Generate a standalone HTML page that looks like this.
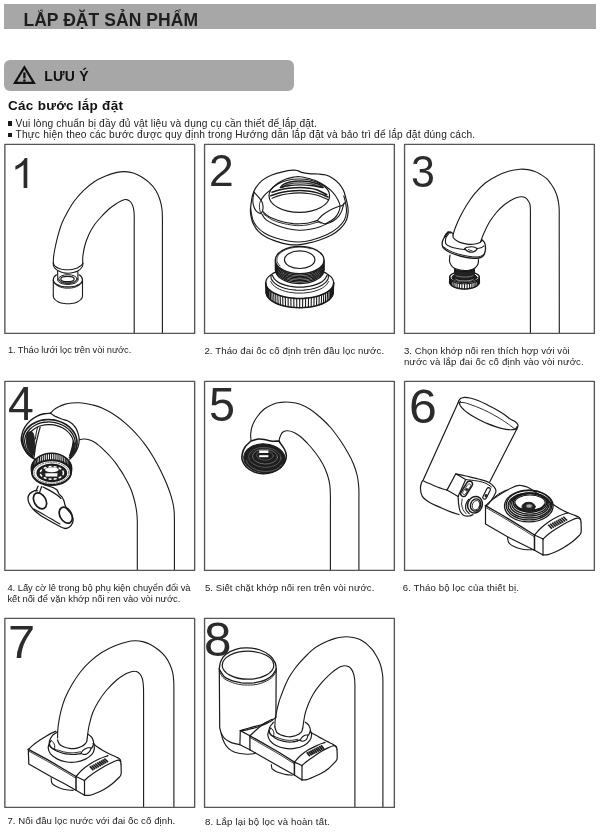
<!DOCTYPE html>
<html lang="vi"><head><meta charset="utf-8"><title>LẮP ĐẶT SẢN PHẨM</title>
<style>
html,body{margin:0;padding:0;background:#fff;}
html{width:600px;height:838px;overflow:hidden;}
body{width:600px;height:838px;position:relative;overflow:hidden;font-family:"Liberation Sans",sans-serif;filter:grayscale(1);}
.t{position:absolute;white-space:nowrap;line-height:20px;height:20px;}
.d{position:absolute;white-space:nowrap;line-height:80px;height:80px;color:#2b2b2b;}
.bar1{position:absolute;left:4px;top:4px;width:592px;height:25.2px;background:#a7a7a7;}
.bar2{position:absolute;left:3.8px;top:59.7px;width:290px;height:31.5px;background:#a7a7a7;border-radius:6px;}
.bul{position:absolute;width:4.6px;height:4.6px;background:#1a1a1a;left:7.9px;}
svg{position:absolute;left:0;top:0;}
</style></head>
<body>
<div class="bar1"></div>
<div class="bar2"></div>
<div class="bul" style="top:121.2px"></div>
<div class="bul" style="top:132.6px"></div>
<div class="t" id="t0" style="left:23.4px;top:10.24px;font-size:17.5px;font-weight:bold;color:#1e1e1e;letter-spacing:0.059px;">LẮP ĐẶT SẢN PHẨM</div>
<div class="t" id="t1" style="left:44.2px;top:65.65px;font-size:14px;font-weight:bold;color:#111;letter-spacing:0.221px;">LƯU Ý</div>
<div class="t" id="t2" style="left:8.1px;top:95.72px;font-size:13.5px;font-weight:bold;color:#111;letter-spacing:0.260px;">Các bước lắp đặt</div>
<div class="t" id="t3" style="left:15.6px;top:113.57px;font-size:10.2px;font-weight:normal;color:#222;letter-spacing:0.162px;">Vui lòng chuẩn bị đầy đủ vật liệu và dụng cụ cần thiết để lắp đặt.</div>
<div class="t" id="t4" style="left:15.6px;top:125.27px;font-size:10.2px;font-weight:normal;color:#222;letter-spacing:0.182px;">Thực hiện theo các bước được quy định trong Hướng dẫn lắp đặt và bảo trì để lắp đặt đúng cách.</div>
<div class="t" id="t5" style="left:7.9px;top:340.08px;font-size:9.3px;font-weight:normal;color:#222;letter-spacing:-0.062px;">1. Tháo lưới lọc trên vòi nước.</div>
<div class="t" id="t6" style="left:204.4px;top:340.97px;font-size:9.6px;font-weight:normal;color:#222;letter-spacing:0.112px;">2. Tháo đai ốc cố định trên đầu lọc nước.</div>
<div class="t" id="t7" style="left:403.9px;top:340.97px;font-size:9.6px;font-weight:normal;color:#222;letter-spacing:0.050px;">3. Chọn khớp nối ren thích hợp với vòi</div>
<div class="t" id="t8" style="left:403.9px;top:352.07px;font-size:9.6px;font-weight:normal;color:#222;letter-spacing:0.143px;">nước và lắp đai ốc cố định vào vòi nước.</div>
<div class="t" id="t9" style="left:7.4px;top:577.74px;font-size:9.4px;font-weight:normal;color:#222;letter-spacing:-0.028px;">4. Lấy cờ lê trong bộ phụ kiện chuyển đổi và</div>
<div class="t" id="t10" style="left:7.4px;top:588.74px;font-size:9.4px;font-weight:normal;color:#222;letter-spacing:-0.011px;">kết nối để vặn khớp nối ren vào vòi nước.</div>
<div class="t" id="t11" style="left:204.9px;top:578.07px;font-size:9.6px;font-weight:normal;color:#222;letter-spacing:0.071px;">5. Siết chặt khớp nối ren trên vòi nước.</div>
<div class="t" id="t12" style="left:402.7px;top:578.07px;font-size:9.6px;font-weight:normal;color:#222;letter-spacing:0.142px;">6. Tháo bộ lọc của thiết bị.</div>
<div class="t" id="t13" style="left:7.4px;top:811.37px;font-size:9.6px;font-weight:normal;color:#222;letter-spacing:0.087px;">7. Nối đầu lọc nước với đai ốc cố định.</div>
<div class="t" id="t14" style="left:204.9px;top:811.57px;font-size:9.6px;font-weight:normal;color:#222;letter-spacing:0.165px;">8. Lắp lại bộ lọc và hoàn tất.</div>
<div class="d" id="d0" style="left:208.78px;top:130.82px;font-size:44.0px;transform-origin:0 0;transform:scale(1.0090,1.0000);">2</div>
<div class="d" id="d1" style="left:411.28px;top:131.34px;font-size:44.0px;transform-origin:0 0;transform:scale(0.9768,1.0115);">3</div>
<div class="d" id="d2" style="left:7.84px;top:360.02px;font-size:44.0px;transform-origin:0 0;transform:scale(1.0545,1.0870);">4</div>
<div class="d" id="d3" style="left:209.13px;top:359.60px;font-size:44.0px;transform-origin:0 0;transform:scale(1.0622,1.1039);">5</div>
<div class="d" id="d4" style="left:408.50px;top:362.00px;font-size:44.0px;transform-origin:0 0;transform:scale(1.1364,1.1076);">6</div>
<div class="d" id="d5" style="left:7.56px;top:599.43px;font-size:44.0px;transform-origin:0 0;transform:scale(1.1089,1.0705);">7</div>
<div class="d" id="d6" style="left:204.28px;top:595.00px;font-size:44.0px;transform-origin:0 0;transform:scale(1.1219,1.1076);">8</div>
<svg width="600" height="838" viewBox="0 0 600 838" fill="none" stroke="#1a1a1a" stroke-width="1.1" stroke-linecap="round" stroke-linejoin="round">
<path d="M24.4 67.3 L33.9 82.9 L14.9 82.9 Z" stroke="#111" stroke-width="2.2" stroke-linejoin="miter"/>
<path d="M24.4 72.4 V78.4" stroke="#111" stroke-width="2.3" stroke-linecap="butt"/>
<circle cx="24.4" cy="80.6" r="1.25" fill="#111" stroke="none"/>
<path d="M27.3 188 L23.6 188 L23.6 164.8 C21.4 166.8 18.4 168.6 15.4 169.7 L15.4 166.1 C19.8 164.2 23.4 161 24.9 158 L27.3 158 Z" fill="#2b2b2b" stroke="none"/>
<g id="p1">
<path d="M53.3 263C53.4 260.6 53.3 258.7 53.7 255.7C54.1 252.7 54.9 248.6 55.7 245C56.5 241.4 57.2 238.1 58.3 234.3C59.4 230.5 60.7 226.1 62.3 222.3C63.9 218.5 65.7 215.2 67.7 211.7C69.7 208.1 71.6 204.6 74.3 201C77 197.4 80.4 193.5 83.7 190.3C87 187.1 90.8 184 94.3 181.7C97.8 179.4 101.2 177.9 105 176.3C108.8 174.8 113.6 173.2 117 172.4C120.4 171.6 122.6 171.5 125.3 171.6C128 171.7 130.6 172.2 133.3 173C136 173.8 138.6 175.1 141.3 176.7C144 178.3 146.9 180.4 149.3 182.7C151.8 185 154.2 187.8 156 190.7C157.8 193.6 159 196.9 160 200C161 203.1 161.6 206.2 162 209.3C162.4 212.4 162.3 214.9 162.4 218.7C162.5 222.5 162.4 227.6 162.4 232L162.4 333"/>
<path d="M82.8 263.3C82.8 260.8 82.5 258.8 82.9 255.7C83.3 252.6 84 248.6 85 245C86 241.4 87.5 237.6 89 234.3C90.5 231 92.3 227.9 94.3 225C96.3 222.1 98.5 219.7 101 217C103.5 214.3 106.3 211.3 109 209C111.7 206.7 114.8 204.6 117 203.2C119.2 201.8 120.4 201 122 200.4C123.6 199.8 125.2 199.3 126.7 199.6C128.2 199.9 129.6 200.7 130.7 202C131.8 203.3 132.7 205.2 133.3 207.3C133.9 209.4 134 211.8 134.2 214.7C134.3 217.6 134.2 221.6 134.2 225L134.2 333"/>
<path d="M53.3 262.9C53.6 263.6 53.8 264.4 54.2 265C54.6 265.6 55.1 266.2 55.8 266.7C56.5 267.2 57.5 267.8 58.5 268.2C59.5 268.6 60.6 268.9 61.7 269.2C62.8 269.4 63.9 269.6 65 269.7C66.1 269.8 67.2 269.8 68.3 269.8C69.4 269.8 70.6 269.7 71.7 269.5C72.8 269.3 74 269.1 75 268.8C76 268.5 77 268.1 77.8 267.7C78.6 267.3 79.3 266.8 80 266.3C80.7 265.8 81.2 265.4 81.7 264.9C82.2 264.4 82.4 263.8 82.8 263.3"/>
<path d="M53.3 262.9C53.3 263.5 53.2 264 53.3 264.6C53.4 265.2 53.7 266.2 54 266.8C54.3 267.4 54.3 267.6 55 268.3C55.7 269 56.9 270.1 58.3 270.8C59.7 271.5 61.6 272.3 63.3 272.7C65 273.1 66.6 273.2 68.3 273.2C70 273.2 71.6 272.9 73.3 272.5C75 272.1 76.9 271.6 78.3 270.8C79.7 270 81 268.4 81.7 267.5C82.4 266.6 82.5 266.2 82.7 265.5C82.9 264.8 82.8 264 82.8 263.3"/>
<path d="M57.6 271L57.8 279.6M77.8 271.6L78 279.6"/>
<ellipse cx="67.5" cy="279" rx="6.7" ry="2.7" stroke-width="1.2"/>
<ellipse cx="67.9" cy="278.8" rx="9.2" ry="4.1" stroke-width="1"/>
<path d="M77.2 279.9C76.9 280.3 76.8 280.7 76.5 281C76.1 281.3 75.7 281.6 75.2 281.9C74.7 282.2 74.1 282.4 73.5 282.7C72.8 282.9 72.1 283.1 71.4 283.2C70.7 283.3 69.9 283.4 69.1 283.5C68.3 283.5 67.5 283.5 66.7 283.5C65.9 283.4 65.1 283.3 64.4 283.2C63.7 283.1 63 282.9 62.3 282.7C61.7 282.4 61.1 282.2 60.6 281.9C60.1 281.6 59.7 281.3 59.3 281C59 280.7 58.9 280.3 58.6 279.9" stroke-width="0.9"/>
<path d="M78 280C77.9 280.4 77.8 280.8 77.6 281.1C77.3 281.5 77 281.9 76.5 282.2C76.1 282.6 75.5 282.9 74.9 283.2C74.3 283.5 73.5 283.7 72.8 283.9C72 284.1 71.2 284.2 70.4 284.3C69.5 284.4 68.7 284.5 67.8 284.5C66.9 284.5 66.1 284.4 65.2 284.3C64.4 284.2 63.6 284.1 62.8 283.9C62.1 283.7 61.3 283.5 60.7 283.2C60.1 282.9 59.5 282.6 59.1 282.2C58.6 281.9 58.3 281.5 58 281.1C57.8 280.8 57.7 280.4 57.6 280" stroke-width="1"/>
<path d="M56.6 274.8C54.5 276 53.3 277.6 53.3 279.6L53.3 295.8"/>
<path d="M53.3 295.8C53.4 296.4 53.4 297.1 53.7 297.7C54 298.3 54.4 299 55 299.5C55.5 300.1 56.2 300.6 57 301.1C57.7 301.6 58.6 302 59.6 302.4C60.6 302.7 61.6 303.1 62.7 303.3C63.8 303.5 65 303.7 66.1 303.7C67.3 303.8 68.5 303.8 69.7 303.7C70.8 303.7 72 303.5 73.1 303.3C74.2 303.1 75.2 302.7 76.2 302.4C77.2 302 78.1 301.6 78.8 301.1C79.6 300.6 80.3 300.1 80.8 299.5C81.4 299 81.8 298.3 82.1 297.7C82.4 297.1 82.4 296.4 82.5 295.8"/>
<path d="M82.5 295.8L82.5 279.8C82.5 277.8 81.2 276 79 274.8"/>
<path d="M53.3 279.8C53.4 280.4 53.4 281 53.7 281.5C54 282.1 54.4 282.6 55 283.1C55.5 283.7 56.2 284.1 57 284.6C57.7 285 58.6 285.4 59.6 285.7C60.6 286.1 61.6 286.3 62.7 286.5C63.8 286.7 65 286.9 66.1 286.9C67.3 287 68.5 287 69.7 286.9C70.8 286.9 72 286.7 73.1 286.5C74.2 286.3 75.2 286.1 76.2 285.7C77.2 285.4 78.1 285 78.8 284.6C79.6 284.1 80.3 283.7 80.8 283.1C81.4 282.6 81.8 282.1 82.1 281.5C82.4 281 82.4 280.4 82.5 279.8" stroke-width="1.2"/>
<path d="M53.6 281.3C54 282 54.2 282.7 54.6 283.3C55.1 283.9 55.8 284.6 56.5 285.1C57.3 285.6 58.2 286.2 59.2 286.6C60.2 287 61.3 287.3 62.4 287.6C63.6 287.9 64.8 288 66 288.1C67.3 288.2 68.5 288.2 69.8 288.1C71 288 72.2 287.9 73.4 287.6C74.5 287.3 75.6 287 76.6 286.6C77.6 286.2 78.5 285.6 79.3 285.1C80 284.6 80.7 283.9 81.2 283.3C81.6 282.7 81.8 282 82.2 281.3" stroke-width="1"/>
</g>
<g id="p2">
<path d="M252.5 195.4C253.3 192.5 254.1 190.4 255.7 187.9C257.3 185.4 259.5 182.6 262.2 180.4C264.9 178.2 268.4 176.4 271.8 175C275.2 173.6 279 172.6 282.6 171.8C286.2 171 290.8 170.4 293.3 170.2C295.8 170 296.2 170.3 297.6 170.7C299 171 299.5 171.8 301.4 172.3C303.3 172.8 306.1 173.4 309 173.7C311.9 174 315.8 173.8 318.6 174C321.5 174.2 323.8 174.3 326.1 175C328.4 175.7 330.5 176.8 332.6 178.2C334.8 179.6 337.2 181.6 339 183.6C340.8 185.6 342.2 187.9 343.3 190.1C344.4 192.2 344.8 194.4 345.4 196.5C346 198.6 346.7 200.8 347.1 202.9C347.6 205.1 348 207.2 348.1 209.4C348.2 211.6 348.1 213.7 347.6 215.8C347.2 218 346.6 220.2 345.4 222.3C344.1 224.5 342.4 226.6 340.1 228.7C337.8 230.8 334.9 233.2 331.5 235.1C328.1 237 323.6 238.7 319.7 240C315.8 241.3 311.5 242.4 307.9 243.2C304.3 244 301.3 244.7 298 244.9C294.7 245.1 291.4 244.9 287.9 244.3C284.4 243.8 280.8 242.8 277.2 241.6C273.6 240.4 269.7 239.1 266.5 237.3C263.3 235.5 260 233 257.9 230.8C255.7 228.7 254.7 226.5 253.6 224.4C252.5 222.3 251.9 220.2 251.4 218C250.9 215.8 250.5 213.7 250.4 211.5C250.3 209.3 250.6 207.8 250.9 205.1C251.2 202.4 251.7 198.3 252.5 195.4Z" stroke-width="1.2"/>
<path d="M250.6 208C250.9 210 251.1 212 251.5 214C251.9 216 252.1 218 253 220.1C253.9 222.2 254.9 224.3 256.8 226.5C258.7 228.7 261.3 231.1 264.3 233C267.3 234.9 271.1 236.5 275 237.8C278.9 239.1 283.9 240.3 287.9 241C291.9 241.7 295.1 242.1 299 242C302.9 241.9 306.4 241.5 311.1 240.3C315.8 239.1 322.7 236.7 327.2 234.6C331.7 232.5 335 230 337.9 227.6C340.8 225.2 343 222.8 344.4 220.1C345.8 217.4 346.3 214.3 346.5 211.5C346.7 208.7 346.1 205.6 345.6 203C345.2 200.4 344.4 198.3 343.8 196"/>
<ellipse cx="299.3" cy="195.7" rx="30.3" ry="16.7" stroke-width="1.2"/>
<path d="M280.5 187.3C281.7 186.3 282.4 185.1 284 184.2C285.6 183.3 287.3 182.6 290 182C292.7 181.4 296.7 181 300 180.9C303.3 180.8 307 181.2 310 181.7C313 182.2 315.8 183.1 318 184C320.2 184.9 321.3 186.2 323 187.3" stroke-width="1.5"/>
<path d="M282 187.3C284 186.3 285 184.9 288 184.2C291 183.5 296 182.9 300 182.9C304 182.9 308.4 183.3 312 184C315.6 184.7 318.3 186.2 321.5 187.3" stroke-width="1.4" stroke="#444"/>
<path d="M280.5 187.6C282.7 187.1 283.8 186.4 287 186C290.2 185.6 295.7 184.9 300 184.9C304.3 184.9 309.2 185.4 313 185.8C316.8 186.2 319.7 187 323 187.6" stroke-width="1.4"/>
<path d="M272 192.3C274.3 191.5 276.3 190.7 279 190C281.7 189.3 284.8 188.7 288.3 188.3C291.8 187.9 296.4 187.4 300 187.4C303.6 187.4 307.1 187.9 310 188.3C312.9 188.7 314.7 188.9 317.5 190C320.3 191.1 323.7 193.1 326.8 194.7" stroke-width="1.5"/>
<path d="M270.8 195.8C273.5 194.9 276.1 193.8 279 193C281.9 192.2 284.8 191.6 288.3 191.2C291.8 190.8 296.4 190.4 300 190.4C303.6 190.4 307.1 190.9 310 191.3C312.9 191.7 314.5 192 317.5 192.9C320.5 193.8 324.5 195.6 328 197" stroke-width="1.5"/>
<path d="M272 198.2C274.3 197.3 276.3 196.3 279 195.6C281.7 194.8 284.8 194.1 288.3 193.7C291.8 193.2 296.4 192.9 300 192.9C303.6 192.9 307.1 193.3 310 193.7C312.9 194.1 314.4 194.3 317.5 195.3C320.6 196.3 324.9 198.4 328.6 199.9" stroke-width="1.1"/>
<path d="M261.1 199.7C262.4 198 263.4 196.4 265 194.7C266.6 193 268.7 191.5 270.8 189.6C272.9 187.7 275.3 185 277.8 183.2C280.3 181.4 283.3 179.9 286 178.9C288.7 177.9 291.9 177.4 294.2 177C296.5 176.6 298.1 176.6 300 176.7C301.9 176.8 302.9 177 305.7 177.7C308.4 178.4 313.3 179.6 316.5 180.9C319.7 182.2 322.3 183.9 325 185.8C327.7 187.7 330.5 189.9 332.6 192.2C334.8 194.5 336.6 197.4 337.9 199.7C339.1 202 340 204 340.1 206.2C340.2 208.3 339.4 210.6 338.5 212.6C337.6 214.6 336.4 216.4 334.7 218C333 219.6 330.1 221.4 328.3 222.3C326.5 223.2 325.9 224 324 223.7C322.1 223.4 319.3 221.6 317 220.6"/>
<path d="M317 220.6C319 218.6 320.7 216.5 322.9 214.7C325.1 212.9 327.9 211.2 330.4 209.9C332.9 208.6 335.9 207.4 337.9 206.7C339.9 205.9 341 206.1 342.2 205.4C343.4 204.7 344.2 203.4 345.2 202.4"/>
<path d="M327.2 223.5C329.3 222.6 331.6 222.1 333.6 220.8C335.6 219.5 337.6 217.5 339 215.8C340.4 214.1 341.1 212.5 341.9 210.4C342.7 208.3 343.2 205.8 343.9 203.5"/>
<path d="M262.7 211.5C264 212.7 265 213.9 266.5 215C268 216.1 269.1 216.9 271.8 218C274.5 219.1 279 220.8 282.6 221.7C286.2 222.6 290.4 223.2 293.3 223.6C296.2 223.9 297.7 223.9 300 223.8C302.3 223.7 305 223.5 307 223.2C309 222.9 310.3 222.4 312 222C313.7 221.6 315.3 221.1 317 220.6"/>
<path d="M263.2 213.7C266.1 215.7 268.7 218 271.8 219.6C274.9 221.2 278.5 222.3 282 223.2C285.5 224.1 290 224.8 293 225.2C296 225.6 297.5 225.7 300 225.6C302.5 225.5 305.2 225.3 308 224.8C310.8 224.3 314.8 222.7 317 222.4C319.2 222.1 319.7 222.9 321 223.2" stroke-width="0.9"/>
<path d="M262.2 214.7C263.6 216.5 264 218.3 266.5 220.1C269 221.9 273.6 224.1 277.2 225.5C280.8 226.9 284.3 227.9 287.9 228.7C291.5 229.5 295.3 230.1 299 230.2C302.7 230.3 306.5 229.9 310 229.3C313.5 228.7 317.1 227.8 320 226.8C322.9 225.8 324.8 224.6 327.2 223.5"/>
<path d="M254.1 192.2C253.7 194.1 253.2 196.2 253 198C252.8 199.8 252.8 201.4 253 202.9C253.2 204.4 253.6 205.8 254 207C254.4 208.2 254.9 209.4 255.7 210.4C256.5 211.4 258.1 212.6 259 213.1C259.9 213.6 260.4 213.5 261.1 213.7"/>
<path d="M254.1 192.2C255.7 194 257.7 196 259 197.6C260.3 199.2 261.3 200.6 262 202C262.7 203.4 262.9 204.6 263 206C263.1 207.4 263 209.1 262.7 210.4C262.4 211.7 261.6 212.6 261.1 213.7"/>
<path d="M261.1 199.7C260.6 201 259.9 202.2 259.6 203.5C259.3 204.8 259.4 205.9 259.5 207.2C259.6 208.4 259.7 209.9 260 211C260.3 212.1 260.7 212.8 261.1 213.7" stroke-width="0.9"/>
<path d="M275.5 261C275.9 262.1 276 263.2 276.6 264.3C277.3 265.4 278.2 266.4 279.2 267.4C280.3 268.3 281.7 269.2 283.1 270C284.6 270.8 286.3 271.5 288 272C289.8 272.6 291.7 273 293.7 273.3C295.6 273.6 297.7 273.7 299.7 273.7C301.7 273.7 303.8 273.6 305.7 273.3C307.7 273 309.6 272.6 311.4 272C313.1 271.5 314.8 270.8 316.3 270C317.7 269.2 319.1 268.3 320.2 267.4C321.2 266.4 322.1 265.4 322.8 264.3C323.4 263.2 323.5 262.1 323.9 261" stroke-width="1.3"/>
<path d="M275.5 262.4C275.9 263.5 276 264.6 276.6 265.7C277.3 266.8 278.2 267.8 279.2 268.8C280.3 269.7 281.7 270.6 283.1 271.4C284.6 272.2 286.3 272.9 288 273.4C289.8 274 291.7 274.4 293.7 274.7C295.6 275 297.7 275.1 299.7 275.1C301.7 275.1 303.8 275 305.7 274.7C307.7 274.4 309.6 274 311.4 273.4C313.1 272.9 314.8 272.2 316.3 271.4C317.7 270.6 319.1 269.7 320.2 268.8C321.2 267.8 322.1 266.8 322.8 265.7C323.4 264.6 323.5 263.5 323.9 262.4" stroke-width="1.3"/>
<path d="M275.5 263.8C275.9 264.9 276 266 276.6 267.1C277.3 268.2 278.2 269.2 279.2 270.2C280.3 271.1 281.7 272 283.1 272.8C284.6 273.6 286.3 274.3 288 274.8C289.8 275.4 291.7 275.8 293.7 276.1C295.6 276.4 297.7 276.5 299.7 276.5C301.7 276.5 303.8 276.4 305.7 276.1C307.7 275.8 309.6 275.4 311.4 274.8C313.1 274.3 314.8 273.6 316.3 272.8C317.7 272 319.1 271.1 320.2 270.2C321.2 269.2 322.1 268.2 322.8 267.1C323.4 266 323.5 264.9 323.9 263.8" stroke-width="1.3"/>
<path d="M275.5 265.2C275.9 266.3 276 267.4 276.6 268.5C277.3 269.6 278.2 270.6 279.2 271.6C280.3 272.5 281.7 273.4 283.1 274.2C284.6 275 286.3 275.7 288 276.2C289.8 276.8 291.7 277.2 293.7 277.5C295.6 277.8 297.7 277.9 299.7 277.9C301.7 277.9 303.8 277.8 305.7 277.5C307.7 277.2 309.6 276.8 311.4 276.2C313.1 275.7 314.8 275 316.3 274.2C317.7 273.4 319.1 272.5 320.2 271.6C321.2 270.6 322.1 269.6 322.8 268.5C323.4 267.4 323.5 266.3 323.9 265.2" stroke-width="1.3"/>
<path d="M275.5 266.6C275.9 267.7 276 268.8 276.6 269.9C277.3 271 278.2 272 279.2 273C280.3 273.9 281.7 274.8 283.1 275.6C284.6 276.4 286.3 277.1 288 277.6C289.8 278.2 291.7 278.6 293.7 278.9C295.6 279.2 297.7 279.3 299.7 279.3C301.7 279.3 303.8 279.2 305.7 278.9C307.7 278.6 309.6 278.2 311.4 277.6C313.1 277.1 314.8 276.4 316.3 275.6C317.7 274.8 319.1 273.9 320.2 273C321.2 272 322.1 271 322.8 269.9C323.4 268.8 323.5 267.7 323.9 266.6" stroke-width="1.3"/>
<path d="M275.5 268C275.9 269.1 276 270.2 276.6 271.3C277.3 272.4 278.2 273.4 279.2 274.4C280.3 275.3 281.7 276.2 283.1 277C284.6 277.8 286.3 278.5 288 279C289.8 279.6 291.7 280 293.7 280.3C295.6 280.6 297.7 280.7 299.7 280.7C301.7 280.7 303.8 280.6 305.7 280.3C307.7 280 309.6 279.6 311.4 279C313.1 278.5 314.8 277.8 316.3 277C317.7 276.2 319.1 275.3 320.2 274.4C321.2 273.4 322.1 272.4 322.8 271.3C323.4 270.2 323.5 269.1 323.9 268" stroke-width="1.3"/>
<path d="M275.5 269.4C275.9 270.5 276 271.6 276.6 272.7C277.3 273.8 278.2 274.8 279.2 275.8C280.3 276.7 281.7 277.6 283.1 278.4C284.6 279.2 286.3 279.9 288 280.4C289.8 281 291.7 281.4 293.7 281.7C295.6 282 297.7 282.1 299.7 282.1C301.7 282.1 303.8 282 305.7 281.7C307.7 281.4 309.6 281 311.4 280.4C313.1 279.9 314.8 279.2 316.3 278.4C317.7 277.6 319.1 276.7 320.2 275.8C321.2 274.8 322.1 273.8 322.8 272.7C323.4 271.6 323.5 270.5 323.9 269.4" stroke-width="1.3"/>
<path d="M275.5 270.8C275.9 271.9 276 273 276.6 274.1C277.3 275.2 278.2 276.2 279.2 277.2C280.3 278.1 281.7 279 283.1 279.8C284.6 280.6 286.3 281.3 288 281.8C289.8 282.4 291.7 282.8 293.7 283.1C295.6 283.4 297.7 283.5 299.7 283.5C301.7 283.5 303.8 283.4 305.7 283.1C307.7 282.8 309.6 282.4 311.4 281.8C313.1 281.3 314.8 280.6 316.3 279.8C317.7 279 319.1 278.1 320.2 277.2C321.2 276.2 322.1 275.2 322.8 274.1C323.4 273 323.5 271.9 323.9 270.8" stroke-width="1.3"/>
<path d="M275.4 260L275.4 270M324.0 260L324.0 270" stroke-width="1.3"/>
<ellipse cx="299.7" cy="260" rx="24.3" ry="13.7" fill="#fff" stroke-width="1.3"/>
<path d="M280 265.9C279.2 264.9 278.3 264.1 277.8 263.1C277.3 262.2 277 261.2 276.9 260.2C276.8 259.2 277 258.2 277.3 257.2C277.7 256.3 278.2 255.3 279 254.4C279.7 253.5 280.7 252.6 281.8 251.9C282.9 251.1 284.2 250.4 285.6 249.8C287 249.2 288.6 248.6 290.2 248.2C291.9 247.8 293.6 247.5 295.4 247.3C297.1 247.1 299 247.1 300.8 247.1C302.6 247.2 304.4 247.3 306.1 247.6C307.8 247.9 309.4 248.4 311.1 248.8" stroke-width="0.8"/>
<ellipse cx="299.7" cy="259.7" rx="15.2" ry="8.8" stroke-width="1.2"/>
<path d="M272.4 275.3C273 276.5 273.4 277.7 274.3 278.8C275.2 279.9 276.4 280.9 277.9 281.9C279.3 282.8 281.1 283.7 283 284.4C284.9 285.1 287 285.7 289.2 286.2C291.4 286.6 293.8 286.9 296.1 287.1C298.5 287.2 300.9 287.2 303.3 287.1C305.6 286.9 308 286.6 310.2 286.2C312.4 285.7 314.5 285.1 316.4 284.4C318.3 283.7 320.1 282.8 321.5 281.9C323 280.9 324.2 279.9 325.1 278.8C326 277.7 326.4 276.5 327 275.3" stroke-width="1.2"/>
<path d="M271.1 275C271.1 276.1 270.9 277.3 271.2 278.5C271.6 279.7 272.3 280.8 273.3 281.9C274.3 283 275.6 284 277.1 285C278.6 285.9 280.4 286.7 282.4 287.4C284.4 288.1 286.6 288.7 288.8 289.2C291.1 289.6 293.6 289.9 296 290.1C298.4 290.2 301 290.2 303.4 290.1C305.8 289.9 308.3 289.6 310.6 289.2C312.8 288.7 315 288.1 317 287.4C319 286.7 320.8 285.9 322.3 285C323.8 284 325.1 283 326.1 281.9C327.1 280.8 327.8 279.7 328.2 278.5C328.5 277.3 328.3 276.1 328.3 275" stroke-width="1.1"/>
<path d="M270.8 281.5C271.6 282.6 272 283.8 273 284.9C274.1 286 275.4 287 277 288C278.5 288.9 280.4 289.7 282.3 290.4C284.3 291.1 286.5 291.7 288.8 292.2C291.1 292.6 293.6 292.9 296 293.1C298.4 293.2 301 293.2 303.4 293.1C305.8 292.9 308.3 292.6 310.6 292.2C312.9 291.7 315.1 291.1 317.1 290.4C319 289.7 320.9 288.9 322.4 288C324 287 325.3 286 326.4 284.9C327.4 283.8 327.8 282.6 328.6 281.5" stroke-width="0.9"/>
<path d="M276.9 271.5C275.4 272.3 273.6 273 272.2 273.9C270.8 274.8 269.6 275.7 268.6 276.7C267.7 277.7 266.9 278.7 266.4 279.8C266 280.8 265.9 281.9 265.7 283" stroke-width="1.2"/>
<path d="M322.5 271.5C324 272.3 325.8 273 327.2 273.9C328.6 274.8 329.8 275.7 330.8 276.7C331.7 277.7 332.5 278.7 333 279.8C333.4 280.8 333.5 281.9 333.7 283" stroke-width="1.2"/>
<path d="M265.7 283C266 284.2 266 285.5 266.7 286.7C267.3 287.9 268.3 289.1 269.6 290.2C270.9 291.3 272.5 292.4 274.3 293.3C276 294.2 278.2 295.1 280.4 295.8C282.6 296.5 285.1 297.1 287.6 297.5C290.2 297.9 292.9 298.2 295.6 298.4C298.3 298.5 301.1 298.5 303.8 298.4C306.5 298.2 309.2 297.9 311.8 297.5C314.3 297.1 316.8 296.5 319 295.8C321.2 295.1 323.4 294.2 325.1 293.3C326.9 292.4 328.5 291.3 329.8 290.2C331.1 289.1 332.1 287.9 332.7 286.7C333.4 285.5 333.4 284.2 333.7 283" stroke-width="1.6"/>
<path d="M266.1 292.2C266.4 293.4 266.4 294.7 267.1 295.9C267.7 297.1 268.7 298.3 269.9 299.4C271.2 300.5 272.8 301.6 274.6 302.5C276.3 303.4 278.4 304.3 280.6 305C282.8 305.7 285.3 306.3 287.8 306.7C290.3 307.1 293 307.4 295.6 307.6C298.3 307.7 301.1 307.7 303.8 307.6C306.4 307.4 309.1 307.1 311.6 306.7C314.1 306.3 316.6 305.7 318.8 305C321 304.3 323.1 303.4 324.8 302.5C326.6 301.6 328.2 300.5 329.5 299.4C330.7 298.3 331.7 297.1 332.3 295.9C333 294.7 333 293.4 333.3 292.2" stroke-width="1.5"/>
<path d="M265.7 283L266.09999999999997 292.2M333.7 283L333.3 292.2" stroke-width="1.3"/>
<path d="M265.8 284.4L266.2 293.6M266.2 285.7L266.6 294.9M266.9 287L267.2 296.2M267.8 288.3L268.1 297.5M268.9 289.6L269.2 298.8M270.3 290.8L270.6 299.9M271.8 291.9L272.2 301.1M273.7 293L274 302.2M275.7 294L275.9 303.2M277.8 294.9L278.1 304.1M280.2 295.7L280.4 304.9M282.7 296.4L282.9 305.6M285.3 297L285.5 306.2M288.1 297.6L288.2 306.8M290.9 298L291 307.2M293.8 298.3L293.9 307.5M296.7 298.4L296.8 307.6M299.7 298.5L299.7 307.7M302.7 298.4L302.6 307.6M305.6 298.3L305.5 307.5M308.5 298L308.4 307.2M311.3 297.6L311.2 306.8M314.1 297L313.9 306.2M316.7 296.4L316.5 305.6M319.2 295.7L319 304.9M321.6 294.9L321.3 304.1M323.7 294L323.5 303.2M325.7 293L325.4 302.2M327.6 291.9L327.2 301.1M329.1 290.8L328.8 299.9M330.5 289.6L330.2 298.8M331.6 288.3L331.3 297.5M332.5 287L332.2 296.2M333.2 285.7L332.8 294.9M333.6 284.4L333.2 293.6" stroke-width="1.1"/>
</g>
<g id="p3">
<path d="M453 235C453.8 232.6 454.1 230.7 455.3 227.7C456.5 224.7 458.1 220.8 460 217C461.9 213.2 464.2 208.9 466.7 205C469.1 201.1 471.6 197.4 474.7 193.7C477.8 190 481.5 186 485.3 183C489.1 180 493.3 177.7 497.3 175.7C501.3 173.7 505.5 172.1 509.3 171C513.1 169.9 516.9 169.4 520 169.2C523.1 169 525.5 169.2 528 169.6C530.5 170 532.8 170.7 535 171.5C537.2 172.3 539 173.4 541 174.6C543 175.8 545 177.1 546.7 178.7C548.4 180.3 549.6 182.1 551 184C552.4 185.9 553.8 188.2 554.8 190.3C555.8 192.4 556.6 194.4 557.2 196.5C557.8 198.6 558.3 200.8 558.6 203C558.9 205.2 559.1 206.8 559.2 210C559.3 213.2 559.2 218 559.2 222L559.3 333"/>
<path d="M480.5 242C481 240.7 481.4 239.5 482 238C482.6 236.5 482.8 235.6 484 233C485.2 230.4 487.3 225.6 489.3 222.3C491.3 219 493.6 215.9 496 213C498.4 210.1 501.3 207.2 504 205C506.7 202.8 509.8 200.9 512 199.7C514.2 198.4 515.4 198 517 197.5C518.6 197 520.1 196.6 521.5 196.7C522.9 196.8 524.3 197.2 525.4 197.8C526.5 198.4 527.2 199.4 528 200.5C528.8 201.6 529.6 202.9 530 204.5C530.4 206.1 530.3 207.4 530.4 210C530.5 212.6 530.4 216.7 530.4 220L530.4 333"/>
<path d="M448 232C446.8 233.7 445.4 235.5 444.5 237C443.6 238.5 443 239.8 442.6 241C442.2 242.2 442.1 243.3 442.2 244.5C442.3 245.7 442.2 246.7 443.5 248C444.8 249.3 447.2 251.2 450 252.5C452.8 253.8 456.7 255.1 460 256C463.3 256.9 466.8 257.7 470 258C473.2 258.3 476.8 258.3 479 258C481.2 257.7 482 257 483 256C484 255 484.6 253.5 485 252C485.4 250.5 485.6 248.6 485.5 247C485.4 245.4 485.1 243.7 484.5 242.5C483.9 241.3 482.8 240.8 482 240" stroke-width="1.3"/>
<path d="M448 232C448.8 232.1 449.7 231.9 450.5 232.2C451.3 232.4 452.2 233.1 453 233.5" stroke-width="1.2"/>
<path d="M444.8 236.8C445.3 235.9 445.8 234.9 446.4 234.2C447 233.5 447.6 232.9 448.3 232.6C449 232.3 449.8 232.6 450.5 232.6" stroke-width="2"/>
<path d="M453 235C453.2 236 452.7 236.9 453.5 238C454.3 239.1 456.5 240.6 458 241.5C459.5 242.4 461 242.8 462.5 243.2C464 243.6 465.6 243.9 467 244.1C468.4 244.3 469.7 244.4 471 244.4C472.3 244.4 473.5 244.3 475 244C476.5 243.7 478.8 243.2 480 242.5C481.2 241.8 481.3 240.8 482 240" stroke-width="1.2"/>
<path d="M448.5 234C447.8 235 446.8 236 446.3 237C445.8 238 445.6 238.8 445.5 240C445.4 241.2 445.2 242.9 446 244C446.8 245.1 448.5 245.8 450 246.5C451.5 247.2 453.3 247.6 455 248C456.7 248.4 458.3 248.7 460 249C461.7 249.3 463.3 249.5 465 249.7" stroke-width="1.1"/>
<path d="M477 248.6C478.3 248.3 479.8 248.2 481 247.8C482.2 247.4 483 246.6 484 246" stroke-width="1.1"/>
<path d="M464.8 248.5C465.5 248.1 466.1 247.6 467 247.3C467.9 247 468.9 247 470 246.9C471.1 246.8 472.3 246.7 473.5 247C474.7 247.3 476 248 477.2 248.5" stroke-width="1.1"/>
<path d="M464.8 248.5C465.3 249.1 465.7 249.7 466.2 250.2C466.7 250.7 467.4 251 468 251.3C468.6 251.6 469.3 251.9 470 252C470.7 252.1 471.2 252.2 472 252.1C472.8 252 473.8 251.7 474.5 251.4C475.2 251.1 475.8 250.7 476.2 250.2C476.6 249.7 476.9 249.1 477.2 248.5" stroke-width="1.3"/>
<path d="M468.2 249.3C468.8 249.7 469.4 250.2 470 250.4C470.6 250.6 471.3 250.4 472 250.4" stroke-width="0.8"/>
<path d="M443 246.5C445.3 248 447.2 249.7 450 251C452.8 252.3 456.7 253.6 460 254.5C463.3 255.4 466.8 256.1 470 256.5C473.2 256.9 476.6 257.2 479 256.8C481.4 256.4 482.7 254.9 484.5 254" stroke-width="1"/>
<path d="M450 255C449.8 257 449.3 259.3 449.5 261C449.7 262.7 450.2 263.8 451 265C451.8 266.2 452.5 267.2 454 268C455.5 268.8 458.3 269.6 460 270C461.7 270.4 462.7 270.4 464 270.5C465.3 270.6 466.7 270.6 468 270.5C469.3 270.4 470.8 270 472 269.6C473.2 269.2 474 268.9 475 268C476 267.1 477.4 265.4 478 264C478.6 262.6 478.3 261 478.5 259.5" stroke-width="1.2"/>
<path d="M454.5 269L454.5 277L474.5 277L474.5 269.2C468 272 460 271.6 454.5 269Z" fill="#222" stroke-width="1"/>
<ellipse cx="464.5" cy="277" rx="14.8" ry="5.6" fill="#fff" stroke-width="1.4"/>
<ellipse cx="464.5" cy="277.4" rx="12.6" ry="4.2" fill="#222" stroke-width="1"/>
<path d="M454.8 270.6L454.8 277.2C458 280 471 280 474.4 277.2L474.4 270.6C468 272.6 460 272.4 454.8 270.6Z" fill="#222" stroke-width="0.8"/>
<path d="M473 279.4C472.6 279.6 472.4 279.8 472 279.9C471.6 280.1 471.1 280.3 470.5 280.4C470 280.5 469.4 280.6 468.7 280.7C468.1 280.8 467.4 280.9 466.7 280.9C466 281 465.2 281 464.5 281C463.8 281 463 281 462.3 280.9C461.6 280.9 460.9 280.8 460.3 280.7C459.6 280.6 459 280.5 458.5 280.4C457.9 280.3 457.4 280.1 457 279.9C456.6 279.8 456.4 279.6 456 279.4" stroke="#bbb" stroke-width="0.8"/>
<path d="M473 275.7C472.6 275.8 472.4 276 472 276.1C471.6 276.3 471.1 276.4 470.5 276.5C470 276.6 469.4 276.7 468.7 276.8C468.1 276.8 467.4 276.9 466.7 276.9C466 277 465.2 277 464.5 277C463.8 277 463 277 462.3 276.9C461.6 276.9 460.9 276.8 460.3 276.8C459.6 276.7 459 276.6 458.5 276.5C457.9 276.4 457.4 276.3 457 276.1C456.6 276 456.4 275.8 456 275.7" stroke="#999" stroke-width="0.7"/>
<path d="M449.7 278.2C449.8 278.6 449.8 279.1 450.1 279.5C450.4 280 450.8 280.4 451.4 280.8C451.9 281.2 452.6 281.6 453.4 281.9C454.2 282.2 455.1 282.6 456.1 282.8C457.1 283.1 458.1 283.3 459.3 283.4C460.4 283.6 461.5 283.7 462.7 283.8C463.9 283.8 465.1 283.8 466.3 283.8C467.5 283.7 468.6 283.6 469.7 283.4C470.9 283.3 471.9 283.1 472.9 282.8C473.9 282.6 474.8 282.2 475.6 281.9C476.4 281.6 477.1 281.2 477.6 280.8C478.2 280.4 478.6 280 478.9 279.5C479.2 279.1 479.2 278.6 479.3 278.2" stroke-width="1.1"/>
<path d="M449.6 282C449.7 282.6 449.7 283.1 450 283.7C450.3 284.2 450.8 284.8 451.3 285.3C451.9 285.7 452.6 286.2 453.3 286.6C454.1 287.1 455.1 287.4 456 287.8C457 288.1 458.1 288.3 459.2 288.5C460.3 288.7 461.5 288.9 462.7 288.9C463.9 289 465.1 289 466.3 288.9C467.5 288.9 468.7 288.7 469.8 288.5C470.9 288.3 472 288.1 473 287.8C473.9 287.4 474.9 287.1 475.7 286.6C476.4 286.2 477.1 285.7 477.7 285.3C478.2 284.8 478.7 284.2 479 283.7C479.3 283.1 479.3 282.6 479.4 282" stroke-width="1.5"/>
<path d="M449.7 277L449.6 282M479.3 277L479.4 282" stroke-width="1.3"/>
<path d="M449.9 279.4L449.8 283.2M450.6 280.3L450.5 284.4M451.7 281.2L451.6 285.5M453.2 282L453.1 286.5M455 282.7L454.9 287.4M457.1 283.2L457.1 288.1M459.4 283.7L459.4 288.6M461.9 283.9L461.9 288.9M464.5 284L464.5 289M467.1 283.9L467.1 288.9M469.6 283.7L469.6 288.6M471.9 283.2L471.9 288.1M474 282.7L474.1 287.4M475.8 282L475.9 286.5M477.3 281.2L477.4 285.5M478.4 280.3L478.5 284.4M479.1 279.4L479.2 283.2" stroke-width="1.1"/>
</g>
<g id="p4">
<path d="M50.6 413.2C51.7 412 52.6 410.7 54 409.6C55.4 408.5 57 407.6 58.7 406.7C60.5 405.8 62.3 405 64.5 404.4C66.7 403.8 69.3 403.3 71.7 403C74.1 402.7 76.5 402.7 79 402.8C81.5 402.9 84.2 403.3 86.8 403.7C89.4 404.1 92 404.7 94.5 405.4C97 406.1 99.5 406.9 102 408C104.5 409.1 107 410.4 109.5 411.8C112 413.2 114.6 414.9 117.2 416.7C119.8 418.5 122.5 420.6 125 422.8C127.5 425 130 427.3 132.3 429.7C134.6 432.1 136.8 434.5 139 437C141.2 439.5 143.3 442.1 145.3 444.8C147.3 447.5 149.2 450.3 151 453.2C152.8 456.1 154.6 459.2 156.2 462.2C157.8 465.2 159.4 468.1 160.8 471C162.2 473.9 163.5 476.6 164.8 479.5C166.1 482.4 167.3 485.3 168.4 488.2C169.5 491.1 170.5 494.1 171.3 496.8C172.1 499.5 172.7 502 173.2 504.5C173.7 507 174 509.4 174.2 512C174.4 514.6 174.4 517 174.4 520C174.4 523 174.4 526.7 174.4 530L174.4 570"/>
<path d="M79.2 440C80 439.7 80.7 439.4 81.6 439.2C82.5 439 83.5 438.9 84.7 439C85.9 439.1 87.6 439.4 89 439.8C90.4 440.2 91.7 440.7 93.3 441.6C94.9 442.5 97 443.9 98.8 445.4C100.6 446.8 102.4 448.5 104.2 450.3C106 452.1 108 454 109.8 456C111.6 458 113.4 460.1 115 462.2C116.6 464.3 118 466.4 119.5 468.6C121 470.8 122.3 472.8 123.7 475.2C125.1 477.6 126.5 480.3 127.8 482.8C129.1 485.3 130.3 487.8 131.3 490.3C132.3 492.8 133.1 495.5 133.8 498C134.5 500.5 135.1 503 135.6 505.5C136.1 508 136.5 510.5 136.8 513C137.1 515.5 137.2 517.9 137.3 520.7C137.4 523.5 137.3 526.9 137.3 530L137.3 570"/>
<path d="M50.6 413.2C48.5 413.4 46.4 413.3 44.2 413.8C42 414.3 39.5 414.9 37.2 416.1C34.9 417.3 32.2 419 30.2 420.8C28.1 422.6 26.3 425 24.9 427.2C23.5 429.4 22.6 431.9 22 434.2C21.4 436.5 21.1 438.9 21.4 441.2C21.7 443.5 22.7 446.1 23.8 448.2C24.9 450.3 26.4 452.4 27.8 454C29.2 455.6 30.9 456.5 32.5 457.8" stroke-width="1.4"/>
<path d="M50.6 413.2C52 414.2 52.9 415.1 54.7 416.1C56.6 417.1 59.6 418.2 61.7 419C63.8 419.8 65.8 420 67.5 420.8C69.2 421.6 70.7 422.4 72.2 423.7C73.7 425 75.2 427 76.3 428.9C77.4 430.8 78.1 433.4 78.6 435.3C79.1 437.2 79.3 438.1 79.2 440C79.1 441.9 78.8 444.7 78 447C77.2 449.3 75.9 451.9 74.5 454C73.1 456.1 71.4 457.5 69.8 459.3" stroke-width="1.2"/>
<path d="M34.9 459.3C33.1 458 31.1 456.9 29.6 455.4C28.1 453.9 26.7 452.3 25.7 450.5C24.7 448.8 23.9 447 23.4 445.1C22.9 443.3 22.7 441.3 22.8 439.5C22.9 437.6 23.3 435.7 24 433.9C24.7 432.2 25.7 430.4 26.9 428.9C28.1 427.4 29.7 425.9 31.3 424.7C33 423.5 35 422.5 37 421.7C39 420.9 41.2 420.2 43.5 419.9C45.7 419.6 48.1 419.4 50.4 419.6C52.7 419.7 55.1 420.1 57.3 420.7C59.5 421.3 61.7 422.1 63.7 423.2C65.7 424.2 67.5 425.5 69.2 426.9C70.8 428.3 72.2 429.9 73.4 431.6C74.5 433.2 75.5 435.1 76.1 436.9C76.7 438.7 77 440.7 77 442.5C77.1 444.4 76.8 446.3 76.2 448.1C75.6 449.9 74.8 451.7 73.6 453.3C72.5 454.9 70.9 456.2 69.5 457.7" stroke-width="1.7"/>
<path d="M33.8 457.5C32.4 456.1 30.6 454.9 29.4 453.4C28.1 451.9 27 450.2 26.3 448.6C25.5 446.9 25 445.1 24.8 443.3C24.6 441.6 24.6 439.8 25 438.1C25.3 436.3 26 434.6 26.9 433.1C27.8 431.5 28.9 430 30.3 428.7C31.7 427.4 33.3 426.2 35.1 425.2C36.8 424.3 38.8 423.5 40.8 422.9C42.8 422.4 45 422.1 47.2 422C49.3 421.8 51.6 422 53.8 422.3C55.9 422.7 58.1 423.3 60.1 424.1C62.1 424.8 64 425.9 65.7 427C67.4 428.2 69 429.6 70.3 431C71.6 432.5 72.7 434.1 73.5 435.8C74.3 437.4 74.9 439.2 75.1 441C75.4 442.7 75.4 444.6 75.1 446.3C74.8 448 74.2 449.7 73.4 451.3C72.5 452.9 71.2 454.3 70.1 455.8" stroke-width="1.3"/>
<path d="M32.8 455.3C31.7 454 30.3 452.7 29.3 451.2C28.4 449.7 27.7 448.1 27.2 446.5C26.8 444.9 26.6 443.2 26.7 441.6C26.8 440 27.1 438.4 27.7 436.9C28.3 435.3 29.2 433.8 30.2 432.5C31.3 431.2 32.6 430 34.1 428.9C35.6 427.9 37.3 427 39.1 426.3C40.8 425.6 42.8 425.1 44.8 424.8C46.7 424.5 48.8 424.5 50.8 424.6C52.8 424.7 54.9 425.1 56.8 425.6C58.8 426.2 60.7 426.9 62.4 427.8C64.1 428.7 65.8 429.9 67.2 431.1C68.6 432.3 69.8 433.7 70.8 435.2C71.8 436.6 72.5 438.2 73 439.8C73.5 441.4 73.8 443.1 73.7 444.7C73.7 446.3 73.4 448 72.9 449.5C72.3 451 71.3 452.4 70.5 453.9" stroke-width="1.2"/>
<path d="M27.3 432.5C30 431 32.5 431.5 33.4 433.5C34.6 438 35.4 444 34.6 451.5L33.2 455.5C30 452.5 27.3 447 26.6 442C26.2 438 26.4 435 27.3 432.5Z" fill="#222" stroke-width="0.8"/>
<path d="M40.2 427C39.4 430 38.6 432.8 37.8 436C37 439.2 36.2 442.6 35.6 446C35 449.4 34.7 453 34.2 456.5" stroke-width="1.2"/>
<path d="M37.6 427.2C37.1 429.1 36.6 431 36.2 433C35.8 435 35.7 437 35.4 439" stroke-width="1"/>
<path d="M73.3 441.2C72.9 443.5 72.6 445.6 72 448C71.4 450.4 70.5 453 69.8 455.5" stroke-width="1.2"/>
<path d="M74.6 443C74.6 449 72.8 454.5 70.4 458L69.8 455.5C71.6 451.5 72.6 447.5 73.3 443Z" fill="#222" stroke-width="0.8"/>
<ellipse cx="51.5" cy="469" rx="20.2" ry="15.7" fill="#fff" stroke-width="1.5"/>
<path d="M32.1 464.7L32.7 469.2M32.8 463.1L33.4 467.9M33.7 461.5L34.3 466.7M34.9 460.1L35.4 465.5M36.2 458.7L36.7 464.4M37.7 457.5L38.1 463.5M39.4 456.4L39.8 462.6M41.2 455.5L41.5 461.8M43.2 454.7L43.4 461.2M45.2 454.1L45.4 460.7M47.3 453.6L47.4 460.4M49.5 453.4L49.5 460.2M51.6 453.3L51.6 460.1M53.8 453.4L53.8 460.2M56 453.7L55.8 460.4M58.1 454.2L57.9 460.8M60.1 454.8L59.8 461.3M62 455.6L61.7 461.9M63.8 456.6L63.5 462.7M65.5 457.7L65.1 463.6M67 458.9L66.5 464.6M68.3 460.3L67.8 465.6M69.4 461.7L68.9 466.8M70.3 463.3L69.7 468M71 464.9L70.4 469.3" stroke-width="1.1"/>
<ellipse cx="51.5" cy="472.6" rx="19.5" ry="12.3" fill="#fff" stroke-width="2"/>
<ellipse cx="51.5" cy="472.8" rx="17.3" ry="10.4" fill="none" stroke="#555" stroke-width="0.9" stroke-dasharray="1.2 1.5"/>
<ellipse cx="51.8" cy="472.9" rx="14.6" ry="8.5" fill="#222" stroke-width="1.6"/>
<ellipse cx="51.8" cy="472.9" rx="11.6" ry="6.3" fill="none" stroke="#fff" stroke-width="1.5" stroke-dasharray="1.8 3.2"/>
<ellipse cx="51.8" cy="469.7" rx="6.8" ry="2.5" fill="#fff" stroke="none"/>
<path d="M45.2 473.2L57.6 473.2L57.2 476.6L45.6 476.6Z" fill="#fff" stroke="none"/>
<path d="M33 491.5C31.8 492.3 30.3 492.9 29.5 494C28.7 495.1 28.1 496.5 28 498C27.9 499.5 28.2 501.2 29 503C29.8 504.8 31.2 507 33 509C34.8 511 37.2 513 40 515C42.8 517 46.7 519.1 50 521C53.3 522.9 57.5 525.2 60 526.5C62.5 527.8 63.4 528.4 65 528.5C66.6 528.6 68.2 527.9 69.5 527C70.8 526.1 71.9 524.3 72.5 523C73.1 521.7 73.2 520.5 73 519C72.8 517.5 72 515.7 71 514C70 512.3 68 510.5 67 509C66 507.5 65.5 506.3 65 505C64.5 503.7 64.5 502.3 64 501C63.5 499.7 62.8 498.2 62 497C61.2 495.8 59.8 495.2 59 494C58.2 492.8 58 491.1 57 490C56 488.9 54.3 488.3 53 487.5" stroke-width="1.3"/>
<path d="M34 509C36.7 510.5 39.2 512 42 513.6C44.8 515.2 48 517.1 51 518.8C54 520.5 57 522.3 60 524" stroke-width="1.1"/>
<ellipse cx="40" cy="500.8" rx="8.6" ry="5.8" transform="rotate(60 40 500.8)" stroke-width="1.7"/>
<ellipse cx="65.8" cy="515.2" rx="8.6" ry="5.8" transform="rotate(60 65.8 515.2)" stroke-width="1.7"/>
<path d="M33 491.5C33.6 491.2 34 490.8 34.8 490.7C35.5 490.6 36.6 490.8 37.5 490.8" stroke-width="1.2"/>
<path d="M38 486.2L36 491M41.6 486.6L39.6 492.4" stroke-width="1.3"/>
<path d="M43 487C45.3 488.2 47.7 489.3 50 490.6C52.3 491.9 55.2 493.7 57 495C58.8 496.3 59.7 497.3 61 498.4" stroke-width="1.3"/>
<path d="M44 484.6L53 487.5" stroke-width="1.3"/>
</g>
<g id="p5">
<path d="M251 440.3C250.9 438.1 250.5 436.1 250.7 433.7C250.9 431.3 251.2 428.5 252.3 425.7C253.4 422.9 255 419.8 257 417C259 414.2 261.5 411.2 264.3 409C267.1 406.8 270.9 405 273.7 403.9C276.5 402.8 278.4 402.7 281 402.4C283.6 402.1 285.9 401.9 289 402.2C292.1 402.5 296 402.8 299.5 404C303 405.2 306.5 407.1 310 409.3C313.5 411.6 317 414.4 320.5 417.5C324 420.6 327.8 424.2 331 428C334.2 431.8 337.2 436 340 440C342.8 444 345.2 448 347.5 452C349.8 456 351.9 460 353.5 464C355.1 468 356.4 472 357.3 476C358.2 480 358.5 484 358.8 488C359.1 492 358.9 496 358.9 500L358.9 570"/>
<path d="M279 441C279.3 439.7 279.4 438.4 280 437C280.6 435.6 281.2 433.6 282.3 432.5C283.4 431.4 284.9 430.8 286.8 430.7C288.7 430.6 291.1 431.1 293.5 432.2C295.9 433.2 298.5 434.9 301 437C303.5 439.1 306 441.8 308.5 444.5C311 447.2 313.6 450.2 316 453.5C318.4 456.8 320.9 460.5 322.8 464C324.7 467.5 326.1 471 327.3 474.5C328.5 478 329.3 481.2 329.8 485C330.3 488.8 330.3 493.2 330.4 497C330.5 500.8 330.4 504.3 330.4 508L330.4 570"/>
<path d="M251 441C249 443 246.4 444.9 245 447C243.6 449.1 242.8 451.5 242.3 453.7C241.9 455.9 241.6 458.1 242.3 460.3C243 462.5 244.4 465.1 246.3 467C248.2 468.9 250.9 470.6 253.7 471.7C256.5 472.8 259.9 473.6 263 473.7C266.1 473.8 269.4 473.3 272.3 472.3C275.2 471.3 278.2 469.5 280.3 467.7C282.4 465.9 284 463.8 285 461.7C286 459.6 286.4 457.1 286.3 455C286.2 452.9 285.4 451.1 284.3 449C283.2 446.9 281.2 444.5 279.7 442.3L279 441L279 441C276.8 441.1 274.5 441.4 272.3 441.2C270.1 441 267.9 440.2 265.7 439.8C263.5 439.4 261.4 438.8 259 439C256.6 439.2 253.7 440.3 251 441Z" fill="#fff" stroke-width="1.6"/>
<ellipse cx="264.4" cy="458.3" rx="20.7" ry="14.4" transform="rotate(4 264.4 458.3)" fill="#1e1e1e" stroke-width="1"/>
<ellipse cx="264.8" cy="457.4" rx="16.2" ry="10" transform="rotate(3 264.8 457.4)" stroke="#6a6a6a" stroke-width="0.7"/>
<ellipse cx="265" cy="456.6" rx="12.6" ry="7.4" transform="rotate(3 265 456.6)" stroke="#777" stroke-width="0.8"/>
<path d="M281.6 464.8C280.9 465.6 280.3 466.5 279.4 467.2C278.6 467.9 277.6 468.6 276.4 469.1C275.3 469.7 274.1 470.1 272.8 470.5C271.5 470.9 270.1 471.1 268.7 471.3C267.3 471.4 265.8 471.5 264.4 471.4C262.9 471.3 261.4 471.1 260 470.9C258.6 470.6 257.2 470.2 256 469.7C254.7 469.2 253.5 468.6 252.4 467.9C251.3 467.3 250.3 466.5 249.5 465.7C248.7 464.9 248 464 247.5 463.1C246.9 462.3 246.7 461.3 246.4 460.4" stroke="#777" stroke-width="0.7"/>
<ellipse cx="265" cy="455.6" rx="8.4" ry="4.6" transform="rotate(2 265 455.6)" stroke="#777" stroke-width="0.6"/>
<path d="M259.2 450.4L268.4 450.4L268.4 453L259.2 453Z" fill="#fff" stroke="none"/>
<path d="M259.2 455.2L268.4 455.2L268.4 457.2L259.2 457.2Z" fill="#fff" stroke="none"/>
</g>
<g id="p6">
<path d="M458.1 402.8L423.3 479.8L423.3 479.8C422.7 480.9 421.9 481.5 421.4 483C420.9 484.5 420.4 486.8 420.5 489C420.6 491.2 420.8 494.1 422.3 496.3C423.8 498.5 426.5 500.4 429.7 502.4C432.9 504.3 437.8 506.3 441.5 508C445.2 509.7 449.1 511.3 452 512.4C454.9 513.5 456.7 513.9 459 514.6" stroke-width="1.2"/>
<path d="M516.7 429.2L489.7 482" stroke-width="1.2"/>
<path d="M458.1 402.8C458.4 402.1 458.5 401.3 458.9 400.6C459.3 399.9 459.7 399.2 460.6 398.6C461.5 398.1 462.9 397.4 464.5 397.3C466.1 397.2 467.6 397.4 470 398C472.4 398.6 476.2 399.8 479.2 401C482.2 402.2 484.9 403.7 488 405.2C491.1 406.7 494.7 408.6 497.5 410.2C500.3 411.8 502.8 413.4 505 415C507.2 416.6 509.3 418.5 511 419.6C512.7 420.7 513.9 420.6 515 421.4C516.1 422.2 517.3 423.6 517.8 424.5C518.2 425.4 517.9 426.2 517.7 427C517.5 427.8 517 428.5 516.7 429.2" stroke-width="1.2"/>
<path d="M516.9 426.8C516.5 427.5 516.5 428.2 515.8 428.7C515.2 429.2 514.2 429.5 512.9 429.6C511.7 429.8 510.1 429.8 508.3 429.6C506.6 429.4 504.5 429 502.4 428.6C500.2 428.1 497.9 427.4 495.5 426.6C493.1 425.8 490.6 424.9 488.1 423.9C485.6 422.9 483.1 421.7 480.7 420.5C478.3 419.4 476 418.1 473.8 416.8C471.7 415.6 469.7 414.3 467.9 413C466.2 411.8 464.6 410.5 463.4 409.3C462.1 408.2 461.1 407 460.5 406C459.9 405 459.5 404.1 459.5 403.3C459.5 402.5 460.1 402 460.4 401.4" stroke-width="1.2"/>
<path d="M460.2 402.6C461.5 402.6 462.4 402.3 464 402.6C465.6 402.9 467.5 403.5 470 404.4C472.5 405.3 475.9 406.5 479 407.8C482.1 409.1 485.1 410.4 488.3 412C491.5 413.6 494.9 415.6 498 417.4C501.1 419.2 504.4 421.4 506.7 423C509 424.6 510.5 425.7 512 426.8C513.5 427.9 514.4 428.7 515.6 429.6" stroke-width="0.9"/>
<path d="M423.3 480.8C424.9 481.5 426.4 482.3 428 483C429.6 483.7 430.9 484.3 432.6 485C434.3 485.7 436.2 486.6 438 487.3C439.8 488 442.1 488.7 443.6 489.2C445.1 489.7 445.9 489.8 447 490.1" stroke-width="1.1"/>
<path d="M447 490.1L455.8 473.8L465.7 479.6L458.1 496.5" stroke-width="1.2"/>
<path d="M447 490.1L458.1 496.5" stroke-width="1.1"/>
<path d="M455.8 473.8C459.2 474.5 462.2 475.1 466 476C469.8 476.9 474.7 477.9 478.5 479C482.3 480.1 486.4 481.1 489 482.5C491.6 483.9 493.1 485.7 494.3 487.2C495.5 488.7 496.1 489.8 496 491.3C495.9 492.9 494.9 494.5 493.7 496.5C492.5 498.5 490.2 501.9 489 503.5C487.8 505.1 487.1 505.2 486.2 506" stroke-width="1.2"/>
<path d="M465.7 479.6C467.6 479.8 469.4 479.9 471.5 480.2C473.6 480.5 476.1 480.7 478.5 481.2C480.9 481.7 483.8 482.4 486 483.4C488.2 484.4 489.7 485.8 491.5 487" stroke-width="1"/>
<path d="M458.1 496.5C458.2 498 458.3 499.6 458.4 501C458.5 502.4 458.4 502.9 458.7 504.7C459 506.5 459.4 509.9 460.4 511.7C461.4 513.5 463 515.1 464.5 515.8C466 516.5 467.8 516.2 469.2 516C470.6 515.8 471.7 515.1 473 514.6" stroke-width="1.2"/>
<path d="M462.2 499C462 500.7 461.5 502.2 461.6 504C461.7 505.8 462.3 508 463 509.6C463.7 511.2 465 512.3 466 513.6" stroke-width="0.9"/>
<path d="M461.1 492L460.6 493.5L461 495L462 496.1L463.5 496.6L465 496.2L466.1 495.2L472.1 485.6L472.6 484.1L472.2 482.6L471.2 481.5L469.7 481L468.2 481.4L467.1 482.4Z" stroke-width="1.5"/>
<path d="M462.9 492.1L462.6 492.9L462.8 493.7L463.3 494.3L464.1 494.6L464.9 494.4L465.5 493.9L470.5 486.3L470.8 485.5L470.6 484.7L470.1 484.1L469.3 483.8L468.5 484L467.9 484.5Z" stroke-width="0.8"/>
<ellipse cx="466.8" cy="489.6" rx="1.7" ry="1.7" fill="#333" stroke="none"/>
<path d="M483 496.6L482.8 497.5L483.1 498.4L483.8 499L484.7 499.2L485.6 498.9L486.2 498.2L490.2 490.2L490.4 489.3L490.1 488.4L489.4 487.8L488.5 487.6L487.6 487.9L487 488.6Z" stroke-width="1.2"/>
<ellipse cx="486" cy="495.8" rx="1.5" ry="1.7" fill="#222" stroke="none"/>
<path d="M468.5 499.5C467.8 500.7 466.9 501.8 466.4 503C465.9 504.2 465.6 505.8 465.6 507C465.6 508.2 465.8 509.4 466.4 510.5C467 511.6 468.3 512.6 469.2 513.6" stroke-width="1.2"/>
<ellipse cx="475" cy="504.7" rx="7.2" ry="8.4" transform="rotate(20 475 504.7)" fill="#fff" stroke-width="1.5"/>
<ellipse cx="475.6" cy="505" rx="5" ry="6.2" transform="rotate(20 475.6 505)" stroke-width="1.4"/>
<ellipse cx="476" cy="505.2" rx="3.6" ry="4.8" transform="rotate(20 476 505.2)" stroke-width="0.8"/>
<path d="M485.5 505.7C487.5 503.9 489.4 501.9 491.5 500.2C493.6 498.5 495.9 497.2 498.3 495.6C500.7 494 503.6 492.2 506 490.8C508.4 489.4 511.1 488.2 513 487.3C514.9 486.4 516.1 485.9 517.5 485.6C518.9 485.3 519.6 485.2 521.3 485.5C523 485.8 525.2 486.1 527.7 487.3C530.2 488.5 533.2 490.7 536 492.5C538.8 494.3 541.5 496.4 544.2 498.3C547 500.2 549.8 502.2 552.5 504C555.2 505.8 558.1 507.8 560.7 509.3C563.3 510.8 565.8 511.8 568 512.8C570.2 513.8 572.2 514.3 574 515C575.8 515.7 577.5 516.3 578.6 517C579.7 517.7 579.9 518.6 580.6 519.4" stroke-width="1.2"/>
<path d="M485.5 505.7L502 515L520.3 526.2L534.5 535" stroke-width="1.4"/>
<path d="M486.2 507.8L502 516.8L520 527.8L534 536.6" stroke-width="0.8"/>
<path d="M485.5 505.7L485.5 524L507.5 536.8L534.5 550.2" stroke-width="1.2"/>
<path d="M534.5 535L534.5 550.2" stroke-width="1.5"/>
<path d="M543 539L543 555" stroke-width="1.2"/>
<path d="M534.5 535L543 539" stroke-width="1.3"/>
<path d="M534.5 550.2L543 555" stroke-width="1.2"/>
<path d="M534.5 535C536.7 532.7 538.4 530.3 541 528C543.6 525.7 547 523 550 521C553 519 556 517.4 559 516C562 514.6 565 513.7 568 512.6" stroke-width="1.2"/>
<path d="M543 539C544.7 537.5 546 536.1 548 534.5C550 532.9 552.3 531.2 555 529.5C557.7 527.8 561.2 525.6 564 524C566.8 522.4 570 520.9 572 520C574 519.1 574.9 518.7 576 518.4C577.1 518.1 577.9 518 578.6 518.2C579.4 518.4 580.1 519 580.5 519.6C580.9 520.2 580.8 521.2 581 522" stroke-width="1.2"/>
<path d="M581 522C581.1 525 581.3 529.1 581.2 531C581.1 532.9 580.9 532.9 580.6 533.6C580.3 534.3 580.9 533.8 579.5 535.2C578.1 536.6 574.8 539.9 572 542C569.2 544.1 566 546.2 563 548C560 549.8 556.5 551.4 554 552.5C551.5 553.6 549.8 554.2 548 554.6C546.2 555 544.7 554.9 543 555" stroke-width="1.2"/>
<path d="M548.3 524.8L551.9 528.7M550.2 523.8L553.8 527.7M552.1 522.8L555.7 526.6M553.9 521.8L557.6 525.6M555.8 520.8L559.5 524.6M557.7 519.7L561.4 523.6M559.5 518.7L563.3 522.6M561.4 517.7L565.2 521.5M563.3 516.7L567.1 520.5" stroke="#1c1c1c" stroke-width="1.55" stroke-linecap="butt"/>
<path d="M507.5 537.2C507.7 538.3 507.7 539.5 508 540.5C508.3 541.5 508.3 542.3 509.3 543.3C510.3 544.3 512.2 545.7 514 546.6C515.8 547.5 518.1 548.3 520.3 548.8C522.5 549.3 524.8 549.7 527 549.8C529.2 549.9 531.4 549.7 533.6 549.6" stroke-width="1.1"/>
<ellipse cx="528.8" cy="506" rx="24.3" ry="15.8" stroke-width="1.3"/>
<ellipse cx="529" cy="505.2" rx="22.8" ry="14.7" stroke-width="1.3"/>
<ellipse cx="529.3" cy="505.5" rx="21.2" ry="12.5" stroke-width="1.4"/>
<ellipse cx="529.5" cy="504.6" rx="19.6" ry="11.4" stroke-width="1.4"/>
<ellipse cx="529.8" cy="503.7" rx="18.1" ry="10.4" stroke-width="1.4"/>
<ellipse cx="530" cy="502.9" rx="16.6" ry="9.3" stroke-width="1.4"/>
<ellipse cx="530" cy="502.6" rx="15.2" ry="7.6" fill="#fff" stroke-width="1.2"/>
<path d="M544.8 504.4C544.4 505 544.2 505.6 543.6 506.2C543.1 506.8 542.4 507.4 541.6 507.9C540.9 508.4 539.9 508.9 538.9 509.3C537.9 509.7 536.7 510 535.6 510.2C534.4 510.5 533.1 510.7 531.9 510.7C530.7 510.8 529.3 510.8 528.1 510.7C526.9 510.7 525.6 510.5 524.4 510.2C523.3 510 522.1 509.7 521.1 509.3C520.1 508.9 519.1 508.4 518.4 507.9C517.6 507.4 516.9 506.8 516.4 506.2C515.8 505.6 515.6 505 515.2 504.4" stroke-width="1.8"/>
<ellipse cx="528.6" cy="506.8" rx="6.6" ry="4.5" fill="#222" stroke-width="1"/>
<ellipse cx="529.2" cy="506" rx="3.1" ry="1.9" fill="#aaa" stroke="#444" stroke-width="0.6"/>
<path d="M491.3 500C493.6 498.1 495.9 495.8 498.3 494.2C500.8 492.6 503.4 491.5 506 490.2" stroke-width="1"/>
</g>
<g id="p7">
<path d="M57.6 738C57.6 736 57.6 734.2 57.7 732C57.8 729.8 57.8 728.4 58.3 725C58.8 721.6 59.7 716.2 60.8 711.7C61.9 707.2 63.2 702.8 65 698.3C66.8 693.8 69.2 689.3 71.7 685C74.2 680.7 77 676.4 80 672.5C83 668.6 86.4 665 90 661.7C93.6 658.4 97.5 655.1 101.7 652.5C105.9 649.9 110.8 647.5 115 645.8C119.2 644 123.4 642.8 126.7 642C130 641.2 132 640.9 134.7 640.8C137.4 640.7 140.1 641 142.7 641.6C145.3 642.2 147.7 643 150.4 644.4C153.1 645.8 156.2 648 158.7 650C161.2 652 163.4 654.2 165.3 656.7C167.2 659.2 168.8 662 170 664.7C171.2 667.4 172.1 670 172.7 672.7C173.3 675.4 173.5 678 173.7 680.7C173.9 683.4 173.9 685.8 173.9 688.7C173.9 691.6 173.9 694.9 173.9 698L173.9 807"/>
<path d="M87.3 737.5C87.5 735.7 87.7 734.1 88 732C88.3 729.9 88.5 728.1 89.2 725C90 721.9 91 717.2 92.5 713.3C94 709.4 95.9 705.6 98.3 701.7C100.7 697.8 103.6 693.6 106.7 690C109.8 686.4 113.7 682.6 116.7 680C119.8 677.4 122.8 675.5 125 674.2C127.2 672.9 128.4 672.7 130 672.2C131.6 671.7 133 671.2 134.4 671.3C135.8 671.3 137.1 671.7 138.3 672.5C139.5 673.3 140.6 674.6 141.4 676.2C142.2 677.8 142.7 680 143 682C143.3 684 143.4 685.3 143.5 688C143.6 690.7 143.6 694.7 143.6 698L143.6 807"/>
<path d="M57.5 739.8C58.1 741.2 58.5 742.9 59.3 743.9C60 744.9 60.9 745.4 62 746C63.1 746.6 64.5 747.1 65.7 747.5C67 747.9 68.2 748.2 69.5 748.4C70.8 748.6 72.4 748.7 73.8 748.6C75.2 748.5 76.6 748.2 78 747.8C79.4 747.4 80.8 746.9 82 746.3C83.2 745.7 84.2 744.8 85 744C85.8 743.2 86.3 742.7 86.7 741.6C87.1 740.5 87.1 738.9 87.3 737.5" stroke-width="1.2"/>
<path d="M57.5 731.7C55.9 732.9 54.1 733.9 52.8 735.2C51.5 736.6 50.5 738.4 49.9 739.8C49.3 741.1 49.2 742.2 49.3 743.3C49.4 744.4 49.8 745.6 50.6 746.6C51.4 747.6 52.7 748.6 54 749.4C55.3 750.2 56.9 751 58.4 751.6C59.9 752.2 61.6 752.9 63.3 753.3C65 753.7 66.8 754 68.5 754.2C70.2 754.4 71.8 754.6 73.8 754.5C75.8 754.4 78.5 753.9 80.8 753.6" stroke-width="1.2"/>
<path d="M87.8 734C88.7 734.7 89.8 735.4 90.6 736.2C91.4 737 92 737.5 92.5 738.7C93 739.9 93.8 741.8 93.7 743.3C93.6 744.8 92.5 746.4 91.9 748" stroke-width="1.2"/>
<path d="M49.3 743.3C48.9 744.9 48 746.2 48.2 748C48.4 749.8 49 751.9 50.5 753.8C52 755.6 54.8 757.7 57.5 759.1C60.2 760.5 63.7 761.5 66.8 762C69.9 762.5 73.1 762.5 76.2 762C79.3 761.5 82.9 760.4 85.5 759.1C88.1 757.8 90.4 756 91.9 754.4C93.4 752.8 94 751.1 94.3 749.2C94.6 747.4 93.9 745.3 93.7 743.3" stroke-width="1.2"/>
<path d="M54.6 749.2C55.9 749.6 57 749.9 58.5 750.3C60 750.7 61.6 751.4 63.3 751.8C65 752.2 66.8 752.4 68.5 752.6C70.2 752.8 71.8 752.9 73.8 752.8C75.8 752.7 78.3 752.1 80.5 751.8" stroke-width="0.9"/>
<path d="M51.1 740.4C50.6 741.5 49.9 742.7 49.6 743.6C49.4 744.5 49.3 745.2 49.6 746C49.9 746.8 50.8 747.9 51.6 748.4C52.4 748.9 53.6 748.9 54.6 749.2" stroke-width="1"/>
<path d="M51.1 740.4C51.9 741.1 52.8 741.8 53.4 742.6C54 743.4 54.4 744.3 54.6 745.4C54.8 746.5 54.6 747.9 54.6 749.2" stroke-width="1"/>
<path d="M80.8 753.4C81.5 752.4 82.2 751.2 83 750.4C83.8 749.6 84.6 749.1 85.5 748.7C86.4 748.3 87.5 747.9 88.5 747.8C89.5 747.7 90.4 747.9 91.4 748" stroke-width="1.1"/>
<path d="M80.8 753.4C81.7 753.7 82.6 754.3 83.6 754.4C84.6 754.5 85.7 754.4 86.7 753.9C87.7 753.4 88.6 752.6 89.4 751.6C90.2 750.6 90.7 749.2 91.4 748" stroke-width="1.1"/>
<path d="M28.3 749.3C30.4 747.5 32.8 745.3 34.7 743.8C36.7 742.2 38.2 741.2 40 740C41.8 738.8 43.9 737.6 45.7 736.5C47.5 735.4 49.3 734.3 51 733.4C52.7 732.5 54.2 731.9 55.8 731.2" stroke-width="1.2"/>
<path d="M93 743.6C94.5 744.7 95.9 745.9 97.5 747C99.1 748.1 100.8 749.2 102.5 750.3C104.2 751.3 106.2 752.4 108 753.3C109.8 754.2 111.9 755.1 113.5 755.8C115.1 756.5 116.5 757 117.6 757.6C118.7 758.2 119.5 758.8 120 759.4C120.5 760 120.5 760.7 120.8 761.4" stroke-width="1.2"/>
<path d="M28.3 749.3L47.5 759.6L65 770L76 776.5" stroke-width="1.4"/>
<path d="M29 751.3L47.5 761.4L65 771.6L75.6 778" stroke-width="0.8"/>
<path d="M28.3 749.3L28.8 764L51.2 776.8L65 784L76 790.2" stroke-width="1.2"/>
<path d="M76 776.5L76 790.2" stroke-width="1.5"/>
<path d="M84.5 780.5L84.5 795.3" stroke-width="1.2"/>
<path d="M76 776.5L84.5 780.5" stroke-width="1.3"/>
<path d="M76 790.2L84.5 795.3" stroke-width="1.2"/>
<path d="M76 776.5C78 774.3 79.7 772.1 82 770C84.3 767.9 87.2 765.8 90 764C92.8 762.2 96 760.4 99 759C102 757.6 105 756.7 108 755.6" stroke-width="1.2"/>
<path d="M84.5 780.5C86 779.2 87.1 778 89 776.5C90.9 775 93.3 773.2 96 771.5C98.7 769.8 102.2 767.6 105 766C107.8 764.4 111.1 762.9 113 762C114.9 761.1 115.5 760.8 116.5 760.5C117.5 760.2 118.1 759.9 118.8 760.1C119.5 760.3 120.1 760.9 120.5 761.5C120.9 762.1 120.8 763.2 121 764" stroke-width="1.2"/>
<path d="M121 764C121.1 767 121.3 771.1 121.2 773C121.1 774.9 120.9 774.7 120.6 775.4C120.3 776.1 120.9 775.6 119.5 777C118.1 778.4 114.8 781.8 112 784C109.2 786.2 106 788.3 103 790C100 791.7 96.3 793.1 94 794C91.7 794.9 90.6 795.2 89 795.4C87.4 795.6 86 795.3 84.5 795.3" stroke-width="1.2"/>
<path d="M89.8 766.4L93.4 770.2M91.6 765.5L95.2 769.2M93.4 764.5L97.1 768.2M95.2 763.5L98.9 767.2M97.1 762.5L100.8 766.2M98.9 761.6L102.6 765.1M100.7 760.6L104.4 764.1M102.5 759.7L106.2 763.1M104.3 758.7L108.1 762.1" stroke="#1c1c1c" stroke-width="1.65" stroke-linecap="butt"/>
<path d="M51.2 777.8C51.3 778.7 51.2 779.7 51.4 780.6C51.5 781.5 51.4 782.4 52.1 783.3C52.8 784.2 54.1 785.2 55.5 786C56.9 786.8 58.5 787.6 60.3 788.2C62.1 788.8 64.3 789.4 66.5 789.8C68.7 790.2 71 790.2 73.2 790.4" stroke-width="1.1"/>
</g>
<g id="p8">
<path d="M274.8 726.8C275 723.9 275 720.8 275.4 718C275.8 715.2 276.3 712.9 276.9 710.3C277.5 707.7 278.1 705 278.8 702.5C279.5 700 280.3 697.9 281.3 695.2C282.3 692.5 283.6 689.1 284.8 686.2C286.1 683.3 287.3 680.5 288.8 677.8C290.3 675.1 292.2 672.3 294 669.8C295.8 667.3 297.7 665 299.7 662.7C301.7 660.4 303.8 658.2 306 656C308.2 653.8 310.4 651.6 312.7 649.7C315 647.8 317.5 646.2 320 644.8C322.5 643.3 325.4 642 327.8 641C330.2 640 332.2 639.2 334.4 638.6C336.6 638 338.8 637.5 340.8 637.2C342.8 636.9 344.6 636.8 346.4 636.8C348.2 636.8 349.9 636.9 351.7 637.2C353.5 637.5 355.4 638 357.2 638.6C359 639.2 360.8 640 362.5 641C364.2 642 366 643.3 367.6 644.8C369.2 646.2 370.9 648 372.3 649.7C373.7 651.4 374.7 653.2 375.8 655C376.9 656.8 378 658.7 378.8 660.5C379.6 662.3 380.3 664.2 380.8 666C381.3 667.8 381.7 669.5 382 671.3C382.3 673.1 382.7 674.9 382.8 677C382.9 679.1 382.9 681.3 382.9 684C382.9 686.7 382.9 690 382.9 693L382.9 807"/>
<path d="M302.8 728C303 726.4 303 725.8 303.4 723.3C303.8 720.8 304.4 716.4 305.3 713C306.2 709.6 307.5 706.2 308.8 703C310.1 699.8 311.6 696.9 313.3 694C315 691.1 317.1 688.2 319.2 685.6C321.3 683 323.8 680.3 325.9 678.2C327.9 676.1 329.6 674.4 331.5 672.8C333.4 671.2 335.4 669.7 337 668.7C338.6 667.7 339.7 667.1 341 666.6C342.3 666.1 343.7 665.8 344.9 665.8C346.1 665.8 347.3 666.1 348.4 666.6C349.4 667.1 350.4 667.8 351.2 668.9C352 670 352.8 671.5 353.3 673C353.9 674.5 354.2 676.2 354.5 678.2C354.8 680.2 354.8 682.7 354.9 685C355 687.3 354.9 689.7 354.9 692L354.9 807"/>
<path d="M274.8 726.8C275.4 728.6 275.8 730.9 276.6 732.1C277.4 733.3 278.4 733.6 279.5 734.2C280.6 734.8 281.8 735.2 283 735.6C284.2 736 285.3 736.3 286.5 736.5C287.7 736.7 288.8 736.8 290 736.8C291.2 736.8 292.4 736.5 293.6 736.2C294.8 735.9 296 735.5 297 735C298 734.5 299 734 299.8 733.4C300.6 732.8 301.2 732.4 301.7 731.5C302.2 730.6 302.4 729.2 302.8 728" stroke-width="1.2"/>
<path d="M273.7 722.2C272.5 723.6 271 724.9 270.2 726.3C269.4 727.6 269 729.1 269 730.3C269 731.5 269.4 732.4 270 733.4C270.6 734.4 271.7 735.4 272.5 736.2C273.3 737 274 737.4 275 738C276 738.6 277 739.2 278.3 739.7C279.6 740.2 281.4 740.8 283 741.2C284.6 741.6 286.2 741.9 287.7 742C289.2 742.1 290.4 742.1 291.8 742C293.2 741.9 294.5 741.7 295.8 741.4C297.1 741.1 298.5 740.5 299.9 740" stroke-width="1.2"/>
<path d="M305.2 722.2C306 722.8 306.9 723.3 307.6 724C308.3 724.7 308.8 725.2 309.3 726.3C309.8 727.3 310.5 728.8 310.4 730.3C310.3 731.8 309.3 733.4 308.7 735" stroke-width="1.2"/>
<path d="M269 730.3C268.6 731.9 267.6 733.2 267.8 735C268 736.8 268.8 739 270.2 740.8C271.6 742.5 273.5 744.2 276 745.5C278.5 746.8 282.2 747.9 285.3 748.4C288.4 748.9 291.6 748.9 294.7 748.4C297.8 747.9 301.5 746.9 304 745.5C306.5 744.1 308.5 742 309.8 740.3C311.1 738.5 311.5 736.7 311.6 735C311.7 733.3 310.8 731.9 310.4 730.3" stroke-width="1.2"/>
<path d="M274.2 736.4C275.5 736.9 276.7 737.3 278 737.8C279.3 738.3 280.5 738.8 282 739.2C283.5 739.6 285.4 740 287 740.2C288.6 740.4 290 740.5 291.8 740.3C293.6 740.1 295.8 739.6 297.8 739.2" stroke-width="0.9"/>
<path d="M270.8 728C270.3 729 269.6 730.1 269.4 731C269.1 731.9 269 732.7 269.3 733.4C269.6 734.1 270.3 734.9 271 735.4C271.7 735.9 272.8 735.9 273.7 736.2" stroke-width="1"/>
<path d="M270.8 728C271.5 728.7 272.3 729.2 272.8 730C273.3 730.8 273.7 731.6 273.8 732.6C273.9 733.6 273.7 735 273.7 736.2" stroke-width="1"/>
<path d="M299.9 740.3C300.6 739.3 301.3 738.1 302 737.3C302.7 736.5 303.3 736.1 304 735.7C304.7 735.3 305.5 735.1 306.2 735C306.9 734.9 307.5 735 308.1 735" stroke-width="1.1"/>
<path d="M299.9 740.3C300.8 740.6 301.7 741.2 302.6 741.2C303.5 741.2 304.5 740.9 305.2 740.4C305.9 739.9 306.5 739.3 307 738.4C307.5 737.5 307.7 736.1 308.1 735" stroke-width="1.1"/>
<path d="M219.3 668.6C219.8 666.2 219.6 663.9 220.7 661.5C221.8 659.1 223.3 656.3 225.8 654.3C228.3 652.3 232.2 650.4 235.8 649.3C239.4 648.2 243.1 647.8 247.2 647.9C251.2 648 256.3 648.7 260.1 650C263.9 651.3 267.6 653.6 270.1 655.8C272.6 657.9 274.2 660.8 275.2 662.9C276.2 665 275.9 666.7 276.2 668.6" stroke-width="1.3"/>
<ellipse cx="248" cy="665.2" rx="25.8" ry="14" stroke-width="1.2"/>
<path d="M219.3 669.5C221 671.9 222.5 675 224.3 676.7C226.1 678.4 228.1 679 230 679.8C231.9 680.6 233.9 681.2 235.8 681.7C237.7 682.2 239.6 682.5 241.5 682.8C243.4 683 245.4 683.2 247.5 683.2C249.6 683.2 251.9 683 254 682.8C256.1 682.5 258.1 682.2 260.1 681.7C262.1 681.2 264.1 680.6 266 679.6C267.9 678.6 269.9 677.7 271.6 676C273.3 674.3 274.7 671.6 276.2 669.4" stroke-width="1.3"/>
<path d="M219.4 671.6C221 673.9 221.5 676.6 224.2 678.6C226.9 680.6 231.7 682.5 235.6 683.6C239.5 684.7 243.4 685.1 247.5 685.1C251.6 685.1 256.2 684.8 260.2 683.6C264.2 682.4 268.8 680 271.4 678C274 676 274.5 673.7 276.1 671.6" stroke-width="0.9"/>
<path d="M219.3 668.6L219.7 727.5L219.7 727.5C220.2 729.4 220.4 731.5 221.2 733.3C222 735.1 223 736.8 224.5 738.3C226 739.8 228.6 741.2 230.3 742.1C232.1 743 233.4 743.2 235 743.6C236.6 744 238.2 744.3 239.8 744.7" stroke-width="1.2"/>
<path d="M221.2 733.3C221.7 735.3 222 737.1 222.8 739.2C223.6 741.3 224.8 743.9 226.2 745.8C227.6 747.7 229.1 749.1 231.2 750.4C233.3 751.6 236.1 752.7 238.7 753.3C241.3 753.9 244.5 754.1 247 754.2C249.5 754.3 252.3 754 253.7 753.8C255.1 753.6 254.8 753.1 255.4 752.8" stroke-width="1.1"/>
<path d="M276.2 668.6L275.9 717.3" stroke-width="1.2"/>
<path d="M275.9 717.3C274.6 718.4 273.4 719.6 272 720.6C270.6 721.6 269.2 722.2 267.3 723.1C265.4 724 262.9 725.1 260.5 726C258.1 726.9 255.2 727.7 253 728.3C250.8 728.9 249 729.4 247 729.8C245 730.2 242.9 730.5 240.8 730.9" stroke-width="1.2"/>
<path d="M240.3 730.6L239.9 744.7L249.9 749.8" stroke-width="1.2"/>
<path d="M240.3 730.6L249.9 735.8L249.9 749.8" stroke-width="1.3"/>
<path d="M249.9 735.8C251.6 734.2 253 732.8 255 731C257 729.2 259.8 726.6 262 725C264.2 723.4 266.3 722.4 268 721.4C269.7 720.4 270.9 719.9 272.4 719.2" stroke-width="1.2"/>
<path d="M240.3 730.6C243 729.8 245.9 728.9 248.3 728.2C250.8 727.5 252.7 727 255 726.4C257.3 725.8 259.8 725.2 262 724.4C264.2 723.6 266 722.4 268 721.4" stroke-width="1.1"/>
<path d="M310.6 732.2C312.4 733.2 314.1 734.1 316 735.2C317.9 736.3 319.9 737.6 321.7 738.6C323.5 739.6 325.3 740.5 327 741.4C328.7 742.3 330.7 743.1 332 743.8C333.3 744.5 334.3 745.2 335 745.8C335.7 746.4 335.9 746.9 336.4 747.4" stroke-width="1.2"/>
<path d="M249.9 735.8L262 742.6L280 753L294.4 762.2" stroke-width="1.4"/>
<path d="M250.3 737.6L262 744.4L280 754.8L294 763.6" stroke-width="0.8"/>
<path d="M249.9 749.8L262 756.8L280 767L294.4 775" stroke-width="1.2"/>
<path d="M294.4 762.2L294.4 775" stroke-width="1.5"/>
<path d="M302 765.5L302 780" stroke-width="1.2"/>
<path d="M294.4 762.2L302 765.5" stroke-width="1.3"/>
<path d="M294.4 775L302 780" stroke-width="1.2"/>
<path d="M294.4 762.2C296.3 760.1 297.7 758 300 756C302.3 754 305 751.8 308 750C311 748.2 315.2 746.3 318 745C320.8 743.7 322.7 743.3 325 742.4" stroke-width="1.2"/>
<path d="M302 765.5C303.3 764.3 304.2 763.4 306 762C307.8 760.6 310.3 758.8 313 757C315.7 755.2 319.2 752.7 322 751C324.8 749.3 328.2 747.9 330 747C331.8 746.1 332.2 746.1 333 745.9C333.8 745.7 334.4 745.6 335 745.8C335.6 746 336.2 746.4 336.5 747C336.8 747.6 336.8 748.6 337 749.4" stroke-width="1.2"/>
<path d="M337 749.4C337.1 752.3 337.3 756.2 337.2 758C337.1 759.8 336.9 759.4 336.6 760C336.3 760.6 336.9 760.1 335.5 761.6C334.1 763.1 330.6 766.9 328 769C325.4 771.1 323 772.4 320 774C317 775.6 312.4 777.5 310 778.5C307.6 779.5 306.9 779.5 305.6 779.8C304.3 780 303.2 779.9 302 780" stroke-width="1.2"/>
<path d="M306.8 752.4L309.9 756.2M308.6 751.5L311.7 755.3M310.4 750.6L313.4 754.4M312.2 749.7L315.2 753.6M313.9 748.8L317 752.7M315.7 747.9L318.8 751.8M317.5 747L320.6 751M319.3 746.1L322.3 750.1M321.1 745.2L324.1 749.2" stroke="#1c1c1c" stroke-width="1.7" stroke-linecap="butt"/>
<path d="M271.3 764.6C271.4 765.3 271.5 766.1 271.6 766.8C271.8 767.5 271.5 768 272.2 768.8C272.9 769.6 274.5 770.6 276 771.4C277.5 772.1 279.5 772.8 281.3 773.3C283.1 773.8 284.8 774.3 286.6 774.6C288.4 774.9 290.4 775 292.3 775.2" stroke-width="1.1"/>
</g>
<rect x="4.85" y="144.40" width="189.8" height="189" stroke="#555" stroke-width="1.35"/>
<rect x="204.55" y="144.40" width="189.8" height="189" stroke="#555" stroke-width="1.35"/>
<rect x="404.55" y="144.40" width="189.8" height="189" stroke="#555" stroke-width="1.35"/>
<rect x="4.85" y="381.40" width="189.8" height="189" stroke="#555" stroke-width="1.35"/>
<rect x="204.55" y="381.40" width="189.8" height="189" stroke="#555" stroke-width="1.35"/>
<rect x="404.55" y="381.40" width="189.8" height="189" stroke="#555" stroke-width="1.35"/>
<rect x="4.85" y="618.40" width="189.8" height="189" stroke="#555" stroke-width="1.35"/>
<rect x="204.55" y="618.40" width="189.8" height="189" stroke="#555" stroke-width="1.35"/>
</svg>
</body></html>
